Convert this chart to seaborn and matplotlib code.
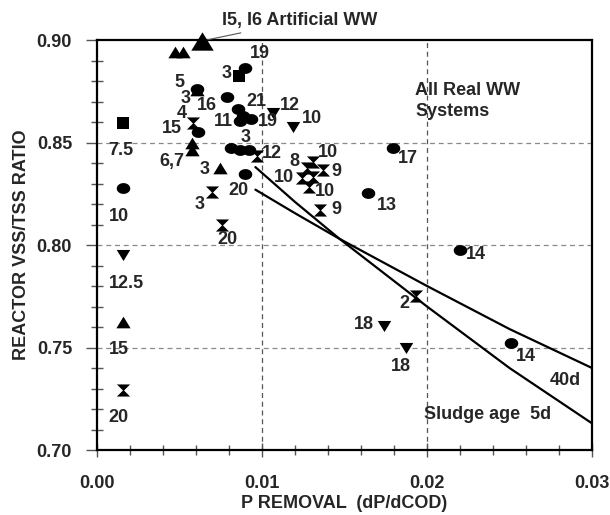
import numpy as np
import matplotlib
matplotlib.use("Agg")
import matplotlib.pyplot as plt
from matplotlib.path import Path
from matplotlib.ticker import MultipleLocator, FormatStrFormatter
import seaborn as sns

# ---- data: P removal (dP/dCOD) vs reactor VSS/TSS ratio, grouped by sludge age ----
# 7.5 d sludge age (squares)
sq_x = [0.00862]
sq_y = [0.8824]
sq_lab = ["3"]

# 10 d sludge age (circles)
circ_x = [0.00897, 0.00604, 0.00786, 0.00855, 0.00885, 0.00867, 0.00933, 0.00612,
          0.00812, 0.00867, 0.00921, 0.00897, 0.01796, 0.01644, 0.02200, 0.02507]
circ_y = [0.8862, 0.8760, 0.8720, 0.8663, 0.8629, 0.8605, 0.8615, 0.8553,
          0.8473, 0.8463, 0.8463, 0.8346, 0.8472, 0.8252, 0.7974, 0.7522]
circ_lab = ["19", "5", "16", "21", "", "11", "19", "15",
            "", "3", "", "20", "17", "13", "14", "14"]

# 12.5 d sludge age (down triangles)
dn_x = [0.01068, 0.01190, 0.01739, 0.01873]
dn_y = [0.8642, 0.8577, 0.7605, 0.7498]
dn_lab = ["12", "10", "18", "18"]

# 15 d sludge age (up triangles)
up_x = [0.00473, 0.00521, 0.00606, 0.00574, 0.00576, 0.00745]
up_y = [0.8943, 0.8943, 0.8756, 0.8498, 0.8463, 0.8376]
up_lab = ["", "", "3", "", "6,7", "3"]

# 20 d sludge age (hourglasses)
hg_x = [0.00584, 0.00968, 0.00695, 0.00756, 0.01309, 0.01273, 0.01370, 0.01242,
        0.01309, 0.01285, 0.01352, 0.01933]
hg_y = [0.8594, 0.8434, 0.8260, 0.8098, 0.8405, 0.8376, 0.8366, 0.8327,
        0.8332, 0.8283, 0.8171, 0.7751]
hg_lab = ["4", "12", "3", "20", "10", "8", "9", "10", "", "10", "9", "2"]

# symbol key column (sludge age in days)
key_x = 0.0016
key_y = [0.8597, 0.8277, 0.7951, 0.7626, 0.7293]
key_lab = ["7.5", "10", "12.5", "15", "20"]

# model curves for sludge ages 5 d and 40 d
curve_x = [0.0096, 0.0120, 0.0147, 0.0200, 0.0250, 0.0300]
curve_5d = [0.838, 0.821, 0.803, 0.770, 0.740, 0.713]
curve_40d = [0.827, 0.8155, 0.803, 0.780, 0.759, 0.740]

# artificial wastewater marker (I5, I6)
art_x, art_y = 0.00634, 0.8995

x_ticks = [0.00, 0.01, 0.02, 0.03]
y_ticks = [0.70, 0.75, 0.80, 0.85, 0.90]

# ---- label offsets (pixels) for the point annotations ----
circ_off = [(15, 15), (-17, 7), (-20, -8), (18, 8), (0, 0), (-17, -1), (17, -3), (-26, 3),
            (0, 0), (6, 13), (0, 0), (-7, -16), (15, -10), (19, -12), (16, -4), (15, -14)]
sq_off = [(-13, 3)]
dn_off = [(17, 8), (19, 8), (-20, 1), (-5, -19)]
up_off = [(0, 0), (0, 0), (-11, -8), (0, 0), (-20, -11), (-15, -2)]
hg_off = [(-12, 10), (15, 3), (-12, -13), (6, -15), (15, 9), (-13, 6), (13, -2), (-18, 0),
          (0, 0), (16, -5), (16, 0), (-12, -7)]

# ---- marker shapes ----
t = np.linspace(0, 2 * np.pi, 64)
ellipse = Path(np.c_[np.cos(t), 0.8 * np.sin(t)], closed=True)
tri_up = Path([(0, 0.82), (-1, -0.82), (1, -0.82), (0, 0.82)], closed=True)
tri_dn = Path([(0, -0.82), (-1, 0.82), (1, 0.82), (0, -0.82)], closed=True)
hourglass = Path([(-1, 0.92), (1, 0.92), (0.08, 0), (1, -0.92), (-1, -0.92), (-0.08, 0), (-1, 0.92)],
                 closed=True)
square = "s"

sns.set_theme(style="white")
plt.rcParams["font.family"] = ["Liberation Sans", "DejaVu Sans"]
plt.rcParams["font.weight"] = "bold"

fig = plt.figure(figsize=(6.10, 5.15), dpi=100)
ax = fig.add_axes([97 / 610, 1 - 450 / 515, (592 - 97) / 610, (450 - 40) / 515])

ax.set_xlim(0, 0.03)
ax.set_ylim(0.70, 0.90)

# dashed grid
for gy in [0.75, 0.80, 0.85]:
    ax.axhline(gy, color="#8a8a8a", lw=0.9, ls=(0, (4, 3)), zorder=0)
for gx in [0.01, 0.02]:
    ax.axvline(gx, color="#555555", lw=0.9, ls=(0, (4, 3)), zorder=0)

# model curves
sns.lineplot(x=curve_x, y=curve_5d, color="black", lw=1.6, ax=ax, sort=False, zorder=2)
sns.lineplot(x=curve_x, y=curve_40d, color="black", lw=1.6, ax=ax, sort=False, zorder=2)

common = dict(color="black", edgecolor="black", linewidth=0, ax=ax, legend=False, zorder=3)
sns.scatterplot(x=up_x, y=up_y, marker=tri_up, s=105, **common)
sns.scatterplot(x=dn_x, y=dn_y, marker=tri_dn, s=95, **common)
sns.scatterplot(x=hg_x, y=hg_y, marker=hourglass, s=90, **common)
sns.scatterplot(x=sq_x, y=sq_y, marker=square, s=70, **common)
sns.scatterplot(x=circ_x, y=circ_y, marker=ellipse, s=95, **common)

# symbol key column
key_markers = [square, ellipse, tri_dn, tri_up, hourglass]
key_sizes = [80, 95, 95, 105, 90]
for ky, km, ks in zip(key_y, key_markers, key_sizes):
    sns.scatterplot(x=[key_x], y=[ky], marker=km, s=ks, **common)
for ky, kl in zip(key_y, key_lab):
    ax.annotate(kl, (key_x, ky), xytext=(-15, -28), textcoords="offset pixels",
                ha="left", va="center", fontsize=13, fontweight="bold")

# point labels
for xs, ys, labs, offs in [(circ_x, circ_y, circ_lab, circ_off), (sq_x, sq_y, sq_lab, sq_off),
                           (dn_x, dn_y, dn_lab, dn_off), (up_x, up_y, up_lab, up_off),
                           (hg_x, hg_y, hg_lab, hg_off)]:
    for px, py, lab, off in zip(xs, ys, labs, offs):
        if lab:
            ax.annotate(lab, (px, py), xytext=off, textcoords="offset pixels",
                        ha="center", va="center", fontsize=13, fontweight="bold", zorder=4)

# artificial wastewater note
ax.annotate("I5, I6 Artificial WW", xy=(art_x, art_y), xytext=(0.00760, 0.9095),
            ha="left", va="center", fontsize=13, fontweight="bold", annotation_clip=False,
            arrowprops=dict(arrowstyle="-", color="#555555", lw=0.8, shrinkA=2, shrinkB=0))
ax.scatter([art_x], [art_y], marker=tri_up, s=260, color="black", linewidth=0,
           clip_on=False, zorder=5)

ax.text(0.0193, 0.8702, "All Real WW\nSystems", ha="left", va="center", fontsize=13,
        fontweight="bold", linespacing=1.35)
ax.text(0.0284, 0.7340, "40d", ha="center", va="center", fontsize=13, fontweight="bold")
ax.text(0.0198, 0.7175, "Sludge age  5d", ha="left", va="center", fontsize=13, fontweight="bold")

# axes styling
for side in ["left", "right", "top", "bottom"]:
    ax.spines[side].set_visible(True)
    ax.spines[side].set_color("black")
    ax.spines[side].set_linewidth(1.6)

ax.set_xticks(x_ticks)
ax.set_yticks(y_ticks)
ax.xaxis.set_major_formatter(FormatStrFormatter("%.2f"))
ax.yaxis.set_major_formatter(FormatStrFormatter("%.2f"))
ax.xaxis.set_minor_locator(MultipleLocator(0.002))
ax.yaxis.set_minor_locator(MultipleLocator(0.01))
ax.tick_params(axis="both", which="both", color="#555555", width=1.0,
               left=True, bottom=True, right=False, top=False)
ax.tick_params(axis="y", which="major", direction="out", length=8, pad=10, labelsize=13)
ax.tick_params(axis="y", which="minor", direction="inout", length=8)
ax.tick_params(axis="x", which="major", direction="inout", length=10, pad=13, labelsize=13)
ax.tick_params(axis="x", which="minor", direction="inout", length=7)
for lbl in ax.get_xticklabels() + ax.get_yticklabels():
    lbl.set_fontweight("bold")

ax.set_xlabel("P REMOVAL  (dP/dCOD)", fontsize=13, fontweight="bold", labelpad=2)
ax.set_ylabel("REACTOR VSS/TSS RATIO", fontsize=13, fontweight="bold", labelpad=5)

fig.savefig("out.png", dpi=100, facecolor="white")
